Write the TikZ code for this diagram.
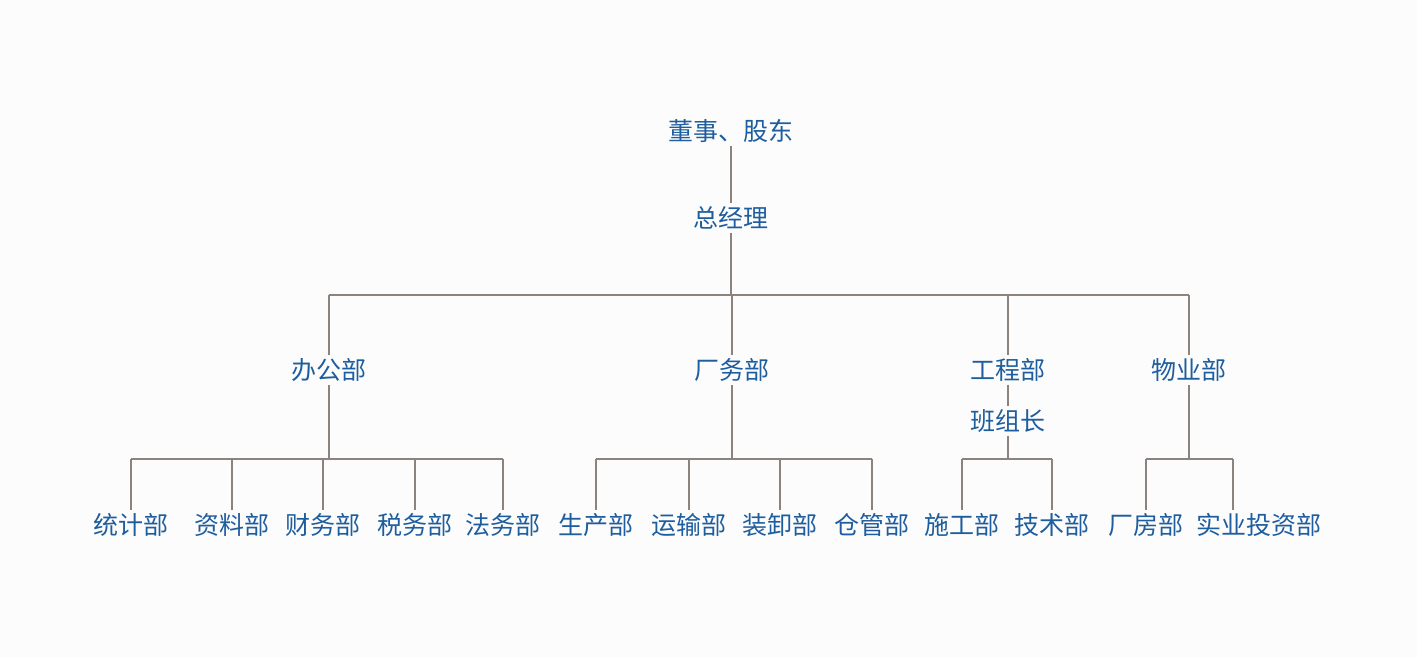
\documentclass[tikz,border=0pt]{standalone}
\usepackage{fontspec}
\setmainfont{Noto Sans CJK SC}
\usetikzlibrary{positioning}
\definecolor{txtblue}{HTML}{1F5E9E}
\definecolor{linegray}{HTML}{8C837E}
\tikzset{
  unit/.style={text=txtblue, font=\fontsize{25}{28}\selectfont, inner sep=3pt},
  link/.style={draw=linegray, line width=1.6pt}
}
\begin{document}
\begin{tikzpicture}[x=1pt,y=-1pt]
  \fill[white!98!gray] (0,0) rectangle (1417,657);
  \useasboundingbox (0,0) rectangle (1417,657);
  % top
  \node[unit] (board) at (731,131) {董事、股东};
  \node[unit] (gm) at (731,218) {总经理};
  \node[unit] (office) at (329,370) {办公部};
  \node[unit] (plant) at (732,370) {厂务部};
  \node[unit] (eng) at (1008,370) {工程部};
  \node[unit] (estate) at (1189,370) {物业部};
  \node[unit] (lead) at (1008,421) {班组长};
  \coordinate (bar) at (0,295);
  \coordinate (low) at (0,459);
  % bottom row
  \foreach \name/\x/\txt in {stat/131/统计部, data/232/资料部, fin/323/财务部, tax/415/税务部, law/503/法务部,
      prod/596/生产部, trans/689/运输部, load/780/装卸部, store/872/仓管部,
      build/962/施工部, tech/1052/技术部,
      house/1146/厂房部, invest/1259/实业投资部}
    \node[unit] (\name) at (\x,525) {\txt};
  % connectors
  \draw[link] (board.south) -- (gm.north);
  \draw[link] (gm.south) -- (gm.south |- bar);
  \draw[link] (office.north |- bar) -- (estate.north |- bar);
  \foreach \d in {office, plant, eng, estate}
    \draw[link] (\d.north |- bar) -- (\d.north);
  \draw[link] (eng.south) -- (lead.north);
  \draw[link] (office.south) -- (office.south |- low);
  \draw[link] (plant.south) -- (plant.south |- low);
  \draw[link] (lead.south) -- (lead.south |- low);
  \draw[link] (estate.south) -- (estate.south |- low);
  \draw[link] (stat.north |- low) -- (law.north |- low);
  \draw[link] (prod.north |- low) -- (store.north |- low);
  \draw[link] (build.north |- low) -- (tech.north |- low);
  \draw[link] (house.north |- low) -- (1233,459);
  \foreach \b in {stat, data, fin, tax, law, prod, trans, load, store, build, tech, house}
    \draw[link] (\b.north |- low) -- (\b.north);
  \draw[link] (1233,459) -- (1233,510);
\end{tikzpicture}
\end{document}
